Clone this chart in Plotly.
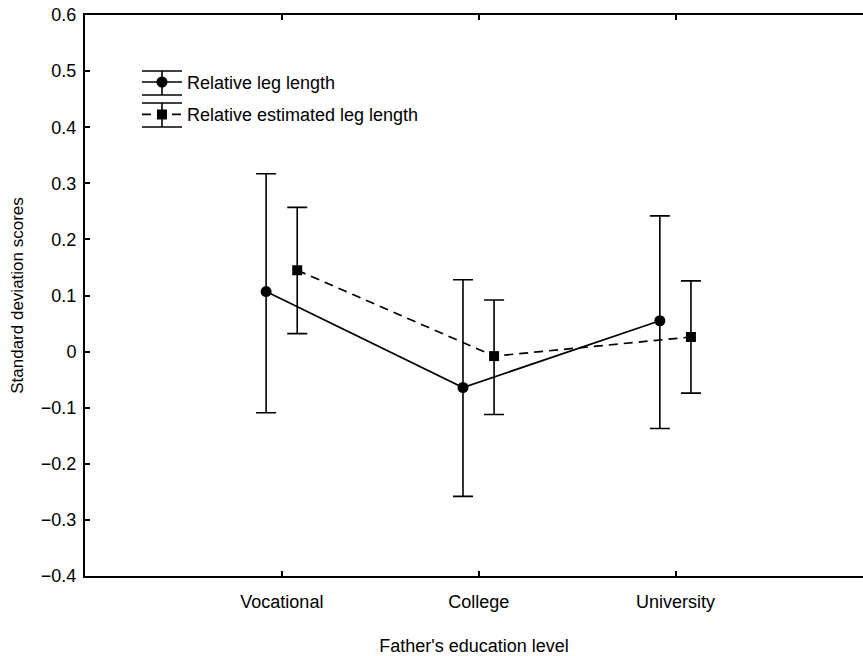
import plotly.graph_objects as go

categories = ["Vocational", "College", "University"]

leg_mean = [0.107, -0.064, 0.055]
leg_upper = [0.317, 0.128, 0.242]
leg_lower = [-0.109, -0.258, -0.137]

est_mean = [0.145, -0.008, 0.026]
est_upper = [0.257, 0.092, 0.126]
est_lower = [0.032, -0.112, -0.074]

series_names = ["Relative leg length", "Relative estimated leg length"]

y_tickvals = [-0.4, -0.3, -0.2, -0.1, 0, 0.1, 0.2, 0.3, 0.4, 0.5, 0.6]
y_ticktext = ["\u22120.4", "\u22120.3", "\u22120.2", "\u22120.1", "0",
              "0.1", "0.2", "0.3", "0.4", "0.5", "0.6"]

FONT = "Liberation Sans, Arial, sans-serif"
FS = 18
W, H = 863, 656
ML, MR, MT, MB = 85, 0, 15, 80
PW, PH = W - ML - MR, H - MT - MB

base_x = [i + 1 for i in range(len(categories))]
offsets = [-0.08, 0.078]

fig = go.Figure()

for i, (name, mean, up, lo, off, sym, dash, size) in enumerate([
    (series_names[0], leg_mean, leg_upper, leg_lower, offsets[0], "circle", "solid", 11),
    (series_names[1], est_mean, est_upper, est_lower, offsets[1], "square", "9px,6px", 10),
]):
    fig.add_trace(go.Scatter(
        x=[b + off for b in base_x],
        y=mean,
        name=name,
        legendgroup=f"g{i}",
        mode="lines+markers",
        line=dict(color="black", width=1.7, dash=dash),
        marker=dict(symbol=sym, size=size, color="black"),
        error_y=dict(
            type="data", symmetric=False,
            array=[u - m for u, m in zip(up, mean)],
            arrayminus=[m - l for m, l in zip(mean, lo)],
            color="black", thickness=1.6, width=10,
        ),
    ))


def px_x(p):
    return (p - ML) / PW


def px_y(p):
    return (H - MB - p) / PH


# legend glyph decorations: error-bar caps and stems (layout only)
LEG_CX = 162
shapes = []
for cy in (83, 115):
    for dy in (-12, 12):
        shapes.append(dict(type="line", xref="paper", yref="paper",
                           x0=px_x(LEG_CX - 20), x1=px_x(LEG_CX + 20),
                           y0=px_y(cy + dy), y1=px_y(cy + dy),
                           line=dict(color="black", width=1.6)))
    shapes.append(dict(type="line", xref="paper", yref="paper",
                       x0=px_x(LEG_CX), x1=px_x(LEG_CX),
                       y0=px_y(cy - 12), y1=px_y(cy + 12),
                       line=dict(color="black", width=1.6)))

fig.update_layout(
    width=W, height=H,
    margin=dict(l=ML, r=MR, t=MT, b=MB),
    plot_bgcolor="white", paper_bgcolor="white",
    font=dict(family=FONT, size=FS, color="black"),
    showlegend=True,
    shapes=shapes,
    legend=dict(
        x=0.0668, y=0.913, xanchor="left", yanchor="top",
        bgcolor="rgba(0,0,0,0)", font=dict(size=FS),
        tracegroupgap=6, traceorder="grouped",
        itemwidth=40,
    ),
    xaxis=dict(
        range=[0, 3.952], tickvals=base_x, ticktext=categories,
        showgrid=False, zeroline=False, automargin=False,
        showline=True, linecolor="black", linewidth=2, mirror="ticks",
        ticks="inside", ticklen=5, tickwidth=1.5, tickcolor="black",
        ticklabelstandoff=8, ticklabeloverflow="allow",
        title=dict(text="Father's education level", standoff=29, font=dict(size=FS)),
    ),
    yaxis=dict(
        range=[-0.4, 0.6], tickvals=y_tickvals, ticktext=y_ticktext,
        showgrid=False, zeroline=False, automargin=False,
        showline=True, linecolor="black", linewidth=2,
        ticks="inside", ticklen=5, tickwidth=1.5, tickcolor="black",
        ticklabelstandoff=3, ticklabeloverflow="allow",
        title=dict(text="Standard deviation scores", standoff=13, font=dict(size=17)),
    ),
)

fig.write_html(
    "out.html",
    config={"displayModeBar": False},
    post_script="document.body.style.margin='0';document.body.style.overflow='hidden';",
)
